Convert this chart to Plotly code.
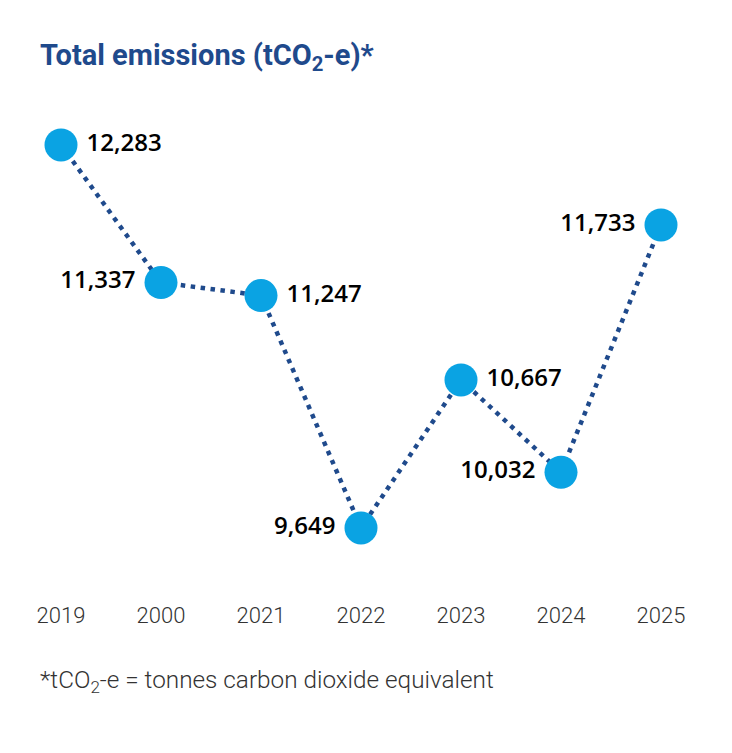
import plotly.graph_objs as go

# Data
years = ["2019", "2000", "2021", "2022", "2023", "2024", "2025"]
emissions = [12283, 11337, 11247, 9649, 10667, 10032, 11733]
label_side = ["right", "left", "right", "left", "right", "left", "left"]

FONT = "Roboto, sans-serif"
DARK_BLUE = "#1f4a8c"
LIGHT_BLUE = "#0aa3e3"

x_idx = list(range(len(years)))

# a thin space pushes the value labels a little further off the dots
labels = []
for v, side in zip(emissions, label_side):
    s = f"{v:,}"
    labels.append("\u2009" + s if side == "right" else s + "\u2009")

fig = go.Figure()

# dotted connector
fig.add_trace(go.Scatter(
    x=x_idx,
    y=emissions,
    mode="lines",
    line=dict(color=DARK_BLUE, width=4.5, dash="4.5px,5.5px"),
    hoverinfo="skip",
    showlegend=False,
))

# points + value labels
fig.add_trace(go.Scatter(
    x=x_idx,
    y=emissions,
    mode="markers+text",
    marker=dict(size=33, color=LIGHT_BLUE),
    text=labels,
    textposition=["middle " + s for s in label_side],
    textfont=dict(family="Open Sans, Roboto, sans-serif", size=24,
                  color="#000000", weight=600),
    hovertemplate="%{text}<extra></extra>",
    showlegend=False,
))

fig.update_layout(
    width=732,
    height=753,
    margin=dict(l=11, r=21, t=100, b=163),
    paper_bgcolor="white",
    plot_bgcolor="white",
    font=dict(family=FONT),
    annotations=[
        dict(
            text="<b>Total emissions (tCO<sub>2</sub>-e)*</b>",
            xref="paper", yref="paper", x=0.038, y=1.0,
            xanchor="left", yanchor="bottom", yshift=22,
            showarrow=False,
            font=dict(family=FONT, size=29, color=DARK_BLUE),
        ),
        dict(
            text="*tCO<sub>2</sub>-e = tonnes carbon dioxide equivalent",
            xref="paper", yref="paper", x=0.038, y=0.0,
            xanchor="left", yanchor="top", yshift=-73,
            showarrow=False,
            font=dict(family=FONT, size=24.3, color="#333333", weight=300),
        ),
    ],
)

fig.update_xaxes(
    range=[-0.5, 6.5],
    tickvals=x_idx,
    ticktext=years,
    showgrid=False,
    zeroline=False,
    showline=False,
    ticks="",
    ticklabelstandoff=10,
    tickfont=dict(family=FONT, size=22, color="#333333", weight=300),
)

fig.update_yaxes(
    range=[9222, 12592],
    visible=False,
    showgrid=False,
    zeroline=False,
)

fig.write_html(
    "out.html",
    config={"displayModeBar": False},
    post_script="document.body.style.margin='0';",
)
